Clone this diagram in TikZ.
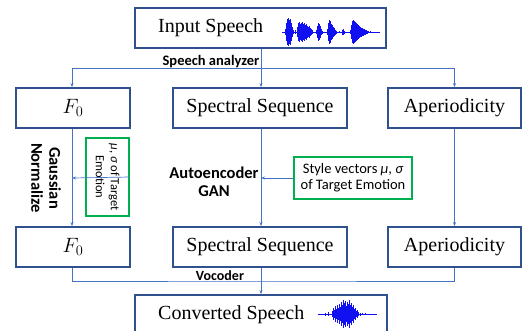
\documentclass[tikz,border=0pt]{standalone}
\usepackage{fontspec}
\setmainfont{Liberation Serif}
\newfontfamily\calib{Carlito}
\usetikzlibrary{arrows.meta}
\definecolor{boxblue}{HTML}{2F528F}
\definecolor{lineblue}{HTML}{4472C4}
\definecolor{grn}{HTML}{00B050}
\definecolor{wave}{HTML}{1010F0}
\begin{document}
\begin{tikzpicture}[x=1pt,y=-1pt,
  mainbox/.style={draw=boxblue,line width=1.8pt,minimum height=40pt,inner sep=0pt,font=\fontsize{20}{22}\selectfont},
  greenbox/.style={draw=grn,line width=1.8pt,inner sep=0pt,font=\calib\fontsize{14.5}{16}\selectfont,align=center},
  conn/.style={draw=lineblue,line width=0.7pt},
  arr/.style={conn,-{Stealth[length=4pt,width=3pt]}},
  lbl/.style={font=\calib\bfseries\fontsize{14.5}{16}\selectfont,align=center,inner sep=0pt},
  wv/.style={draw=wave,line width=1pt}]
\useasboundingbox (0,0) rectangle (529,330);
\clip (0,0) rectangle (529,330);
% boxes
\node[mainbox,minimum width=251pt] (in) at (260.5,28) {};
\node[anchor=west,font=\fontsize{20}{22}\selectfont,inner sep=0pt] (intxt) at (158,28) {Input Speech};
\node[mainbox,minimum width=114pt] (f0a) at (73,108) {$F_0$};
\node[mainbox,minimum width=174pt] (spa) at (260,108) {Spectral Sequence};
\node[mainbox,minimum width=133pt] (apa) at (454.5,108) {Aperiodicity};
\node[mainbox,minimum width=114pt] (f0b) at (73,247) {$F_0$};
\node[mainbox,minimum width=174pt] (spb) at (260,247) {Spectral Sequence};
\node[mainbox,minimum width=133pt] (apb) at (454.5,247) {Aperiodicity};
\node[mainbox,minimum width=252pt] (out) at (261,315) {};
\node[anchor=west,font=\fontsize{20}{22}\selectfont,inner sep=0pt] (outtxt) at (158,315) {Converted Speech};
% green boxes
\node[greenbox,rotate=-90,minimum width=78pt,minimum height=43pt,font=\calib\fontsize{12.5}{15}\selectfont] (gs) at (107.5,177) {{\itshape μ}, {\itshape σ} of Target\\Emotion};
\node[greenbox,minimum width=118pt,minimum height=42pt] (gb) at (353,178) {Style vectors {\itshape μ}, {\itshape σ}\\of Target Emotion};
% labels
\node[lbl] (sa) at (211,62) {Speech analyzer};
\node[lbl,font=\calib\bfseries\fontsize{14}{16}\selectfont] (voc) at (220,276) {Vocoder};
\node[lbl,rotate=-90,font=\calib\bfseries\fontsize{16.5}{18}\selectfont] (gn) at (46,178) {Gaussian\\Normalize};
\node[lbl,font=\calib\bfseries\fontsize{16.5}{18.5}\selectfont] (ae) at (214,182) {Autoencoder\\GAN};
% coordinates
\coordinate (sp) at (261,68);
\coordinate (vp) at (261,281);
\coordinate (gsj) at (72,178);
\coordinate (gbj) at (261,178);
% connectors
\draw[arr] (in.south -| sp) -- (spa.north -| sp);
\draw[arr] (sp) -| (f0a.north -| gsj);
\draw[arr] (sp) -| (apa.north);
\draw[arr] (f0a.south -| gsj) -- (f0b.north -| gsj);
\draw[arr] (spa.south -| sp) -- (spb.north -| sp);
\draw[arr] (apa.south) -- (apb.north);
\draw[arr] (gs.north) -- (gsj);
\draw[arr] (gb.west) -- (gbj);
\draw[conn] (f0b.south -| gsj) |- (vp) -| (apb.south);
\draw[arr] (spb.south -| vp) -- (out.north -| vp);
% input waveform
\draw[wv,line width=0.8pt] (282,32) -- (380,32);
\foreach \x/\h in {285/3,286/9,287/13,288/14,289/12,290/13,291/9,292/5,293/2,295/2,297/5,298/9,299/10,300/8,301/9,302/10,303/8,304/9,305/7,306/8,307/6,308/5,309/6,310/4,311/3,312/2,316/2,317/6,318/9,319/8,320/6,321/3,322/1.5,327/3,328/9,329/12,330/11,331/8,332/7,333/5,334/4,335/2.5,336/1.5,339/1,342/2.5,343/3,344/1.5,350/2,351/7,352/11,353/12,354/11,355/10,356/9,357/8,358/7,359/6,360/5,361/4.5,362/4,363/3.5,364/3,365/2.5,366/2,367/1.5,368/1.2,370/1}
  \draw[wv] (\x,32-\h) -- (\x,32+\h);
% output waveform
\draw[wv,line width=0.8pt] (318,314) -- (377,314);
\foreach \x/\h in {325/1.5,328/2,332/3,333/6,334/4,335/8,336/5,337/9,338/6,339/10,340/7,341/12,342/9,343/14,344/11,345/13,346/8,347/12,348/10,349/14,350/9,351/11,352/7,353/9,354/5,355/6,356/3,357/4,358/2,360/1.5,362/1.2,365/1}
  \draw[wv] (\x,314-\h) -- (\x,314+\h);
\end{tikzpicture}
\end{document}
